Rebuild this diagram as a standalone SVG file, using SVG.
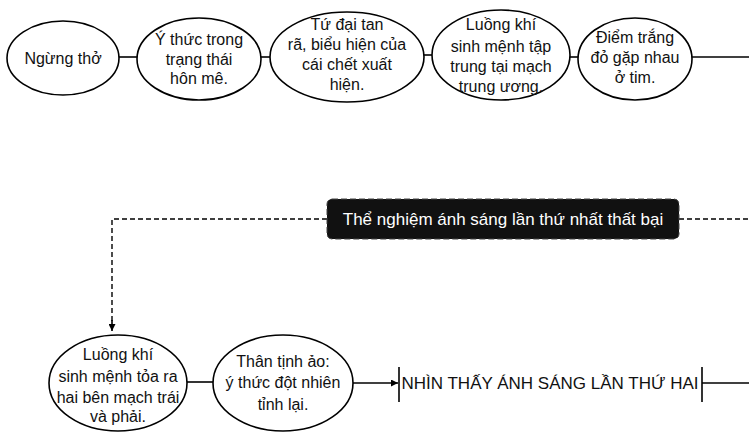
<svg xmlns="http://www.w3.org/2000/svg" width="749" height="432" viewBox="0 0 749 432">
<defs>
<style>
.n{fill:#fff;stroke:#000;stroke-width:1.6}
.t{font-family:"Liberation Sans",Arial,sans-serif;font-size:16px;fill:#111;text-anchor:middle}
.c{stroke:#000;stroke-width:1.6;fill:none}
.d{stroke:#000;stroke-width:1.4;fill:none;stroke-dasharray:5 3}
</style>
<marker id="ah" viewBox="0 0 10 10" refX="10" refY="5" markerWidth="7" markerHeight="7" orient="auto" markerUnits="userSpaceOnUse">
<path d="M0,0 L10,5 L0,10 z" fill="#000"/>
</marker>
</defs>
<rect width="749" height="432" fill="#fff"/>
<g id="connectors">
<line class="c" x1="119" y1="57" x2="137" y2="57"/>
<line class="c" x1="261" y1="57" x2="270" y2="57"/>
<line class="c" x1="424" y1="55" x2="432" y2="55"/>
<line class="c" x1="570" y1="57" x2="578" y2="57"/>
<line class="c" x1="692" y1="57" x2="749" y2="57"/>
<polyline class="d" points="327,219 112,219 112,323"/>
<line class="c" x1="112" y1="320" x2="112" y2="331" marker-end="url(#ah)" stroke-width="1.4"/>
<line class="d" x1="679" y1="219" x2="749" y2="219"/>
<line class="c" x1="187" y1="382" x2="213" y2="382"/>
<line class="c" x1="353" y1="383" x2="398" y2="383" marker-end="url(#ah)"/>
<line class="c" x1="399" y1="367" x2="399" y2="402"/>
<line class="c" x1="702" y1="367" x2="702" y2="402"/>
<line class="c" x1="702" y1="383" x2="749" y2="383"/>
</g>
<g id="n1"><ellipse class="n" cx="63" cy="58" rx="56" ry="37"/><text class="t" x="63" y="64">Ngừng thở</text></g>
<g id="n2"><ellipse class="n" cx="199" cy="59" rx="62" ry="41"/><text class="t"><tspan x="199" y="45">Ý thức trong</tspan><tspan x="199" y="65">trạng thái</tspan><tspan x="199" y="84">hôn mê.</tspan></text></g>
<g id="n3"><ellipse class="n" cx="347" cy="57" rx="77" ry="45"/><text class="t"><tspan x="347" y="30">Tứ đại tan</tspan><tspan x="347" y="50">rã, biểu hiện của</tspan><tspan x="347" y="70">cái chết xuất</tspan><tspan x="347" y="90">hiện.</tspan></text></g>
<g id="n4"><ellipse class="n" cx="501" cy="55" rx="69" ry="45"/><text class="t"><tspan x="501" y="30">Luồng khí</tspan><tspan x="501" y="52">sinh mệnh tập</tspan><tspan x="501" y="72">trung tại mạch</tspan><tspan x="501" y="92">trung ương.</tspan></text></g>
<g id="n5"><ellipse class="n" cx="635" cy="59" rx="57" ry="41"/><text class="t"><tspan x="635" y="43">Điểm trắng</tspan><tspan x="635" y="63">đỏ gặp nhau</tspan><tspan x="635" y="83">ở tim.</tspan></text></g>
<g id="n6"><rect x="327" y="199" width="352" height="40" rx="5" fill="#111" stroke="#444" stroke-width="1" stroke-dasharray="6 3"/><text x="503" y="225" font-family="Liberation Sans, Arial, sans-serif" font-size="17" fill="#fff" text-anchor="middle">Thể nghiệm ánh sáng lần thứ nhất thất bại</text></g>
<g id="n7"><ellipse class="n" cx="118" cy="383" rx="69" ry="48"/><text class="t"><tspan x="118" y="360">Luồng khí</tspan><tspan x="118" y="382">sinh mệnh tỏa ra</tspan><tspan x="118" y="403">hai bên mạch trái</tspan><tspan x="118" y="422">và phải.</tspan></text></g>
<g id="n8"><ellipse class="n" cx="283" cy="383" rx="70" ry="48"/><text class="t"><tspan x="283" y="367">Thân tịnh ảo:</tspan><tspan x="283" y="388">ý thức đột nhiên</tspan><tspan x="283" y="410">tỉnh lại.</tspan></text></g>
<g id="n9"><text x="550" y="389" font-family="Liberation Sans, Arial, sans-serif" font-size="17" fill="#111" text-anchor="middle">NHÌN THẤY ÁNH SÁNG LẦN THỨ HAI</text></g>
</svg>
